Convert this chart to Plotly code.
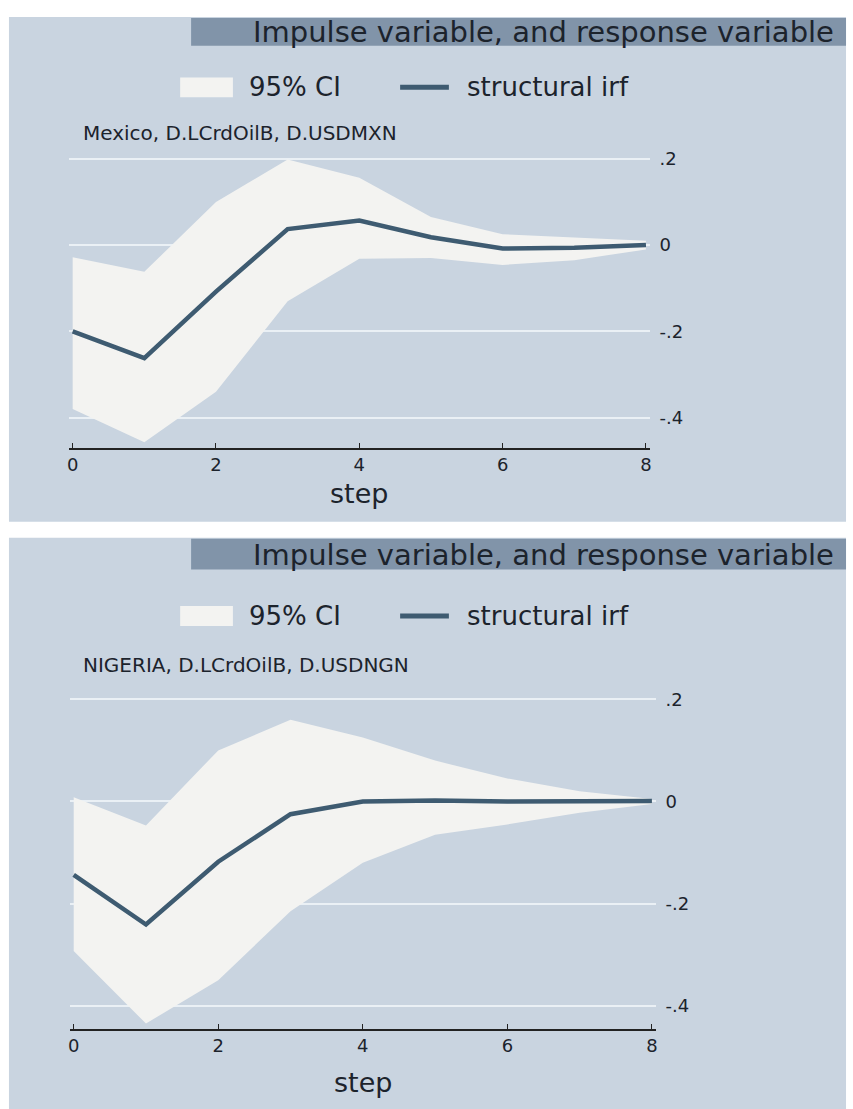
import plotly.graph_objects as go

W, H = 853, 1109

steps = [0, 1, 2, 3, 4, 5, 6, 7, 8]

# Mexico panel
mex_irf = [-0.200, -0.262, -0.108, 0.037, 0.057, 0.018, -0.008, -0.006, 0.000]
mex_lo = [-0.380, -0.457, -0.340, -0.130, -0.032, -0.030, -0.046, -0.035, -0.010]
mex_hi = [-0.028, -0.062, 0.100, 0.198, 0.156, 0.065, 0.025, 0.018, 0.010]

# Nigeria panel
ng_irf = [-0.144, -0.241, -0.118, -0.025, 0.000, 0.002, 0.000, 0.000, 0.001]
ng_lo = [-0.293, -0.435, -0.350, -0.215, -0.120, -0.065, -0.045, -0.022, -0.005]
ng_hi = [0.008, -0.047, 0.100, 0.160, 0.125, 0.080, 0.045, 0.020, 0.005]

ytick_vals = [0.2, 0.0, -0.2, -0.4]
ytick_text = [".2", "0", "-.2", "-.4"]
xtick_vals = [0, 2, 4, 6, 8]

main_title = "Impulse variable, and response variable"
subtitles = ["Mexico, D.LCrdOilB, D.USDMXN", "NIGERIA, D.LCrdOilB, D.USDNGN"]
legend_ci = "95% CI"
legend_irf = "structural irf"
xlabel = "step"

PANEL_BG = "#c9d4e0"
BAR_BG = "#8194a9"
CI_FILL = "#f3f3f1"
IRF_COL = "#3e5b71"
GRID_COL = "#eaf0f5"
TXT = "#1c232c"
FONT = "DejaVu Sans"


def px_x(x):
    return x / W


def px_y(y):
    return 1 - y / H


fig = go.Figure()

# panel geometry in pixels
panels = [
    dict(top=8, bottom=517, bar_bottom=37, plot_l=67.4, plot_r=650.6, plot_t=148.8, plot_b=442.5,
         yr=[-0.47, 0.205], legend_y=79, sub_y=125, step_y=488,
         irf=mex_irf, lo=mex_lo, hi=mex_hi, sub=subtitles[0]),
    dict(top=533, bottom=1109, bar_bottom=565, plot_l=68.4, plot_r=656.6, plot_t=693.4, plot_b=1028,
         yr=[-0.445, 0.205], legend_y=612, sub_y=661, step_y=1082,
         irf=ng_irf, lo=ng_lo, hi=ng_hi, sub=subtitles[1]),
]

shapes = []
annotations = []

for i, p in enumerate(panels):
    sfx = "" if i == 0 else "2"
    xa, ya = "x" + sfx, "y" + sfx
    # CI band
    fig.add_trace(go.Scatter(
        x=steps + steps[::-1], y=p["hi"] + p["lo"][::-1],
        fill="toself", fillcolor=CI_FILL, mode="lines", line=dict(width=0),
        xaxis=xa, yaxis=ya, showlegend=False, hoverinfo="skip"))
    # IRF line
    fig.add_trace(go.Scatter(
        x=steps, y=p["irf"], mode="lines", line=dict(color=IRF_COL, width=4.5),
        xaxis=xa, yaxis=ya, showlegend=False))

    fig.update_layout(**{
        "xaxis" + sfx: dict(
            domain=[px_x(p["plot_l"]), px_x(p["plot_r"])], range=[-0.05, 8.05],
            anchor=ya, tickvals=xtick_vals, ticks="inside", ticklen=5, tickwidth=1.2,
            tickcolor="#222", showline=True, linecolor="#222", linewidth=1.5,
            showgrid=False, zeroline=False, tickfont=dict(family=FONT, size=18, color=TXT),
            fixedrange=True),
        "yaxis" + sfx: dict(
            domain=[px_y(p["plot_b"]), px_y(p["plot_t"])], range=p["yr"],
            anchor=xa, side="right", tickvals=ytick_vals, ticktext=ytick_text,
            ticks="", showline=False, showgrid=True, gridcolor=GRID_COL, gridwidth=1.6,
            zeroline=False, ticklabelstandoff=9,
            tickfont=dict(family=FONT, size=18, color=TXT), fixedrange=True),
    })

    # panel background
    shapes.append(dict(type="rect", xref="paper", yref="paper", layer="below",
                       x0=px_x(7), x1=px_x(848), y0=px_y(p["bottom"]), y1=px_y(p["top"]),
                       fillcolor=PANEL_BG, line=dict(width=0)))
    # title bar
    shapes.append(dict(type="rect", xref="paper", yref="paper", layer="below",
                       x0=px_x(190), x1=px_x(848), y0=px_y(p["bar_bottom"]), y1=px_y(p["top"] + 1),
                       fillcolor=BAR_BG, line=dict(width=0)))
    annotations.append(dict(text=main_title, xref="paper", yref="paper",
                            x=px_x(838), y=px_y((p["top"] + p["bar_bottom"]) / 2 + 1),
                            xanchor="right", yanchor="middle", showarrow=False,
                            font=dict(family=FONT, size=29, color=TXT)))
    # legend
    ly = p["legend_y"]
    shapes.append(dict(type="rect", xref="paper", yref="paper",
                       x0=px_x(179), x1=px_x(232), y0=px_y(ly + 10), y1=px_y(ly - 10),
                       fillcolor=CI_FILL, line=dict(width=0)))
    annotations.append(dict(text=legend_ci, xref="paper", yref="paper", x=px_x(246), y=px_y(ly),
                            xanchor="left", yanchor="middle", showarrow=False,
                            font=dict(family=FONT, size=26, color=TXT)))
    shapes.append(dict(type="line", xref="paper", yref="paper",
                       x0=px_x(400), x1=px_x(449), y0=px_y(ly), y1=px_y(ly),
                       line=dict(color=IRF_COL, width=5)))
    annotations.append(dict(text=legend_irf, xref="paper", yref="paper", x=px_x(465), y=px_y(ly),
                            xanchor="left", yanchor="middle", showarrow=False,
                            font=dict(family=FONT, size=26, color=TXT)))
    # subtitle
    annotations.append(dict(text=p["sub"], xref="paper", yref="paper", x=px_x(79), y=px_y(p["sub_y"]),
                            xanchor="left", yanchor="middle", showarrow=False,
                            font=dict(family=FONT, size=20, color=TXT)))
    # x label
    annotations.append(dict(text=xlabel, xref="paper", yref="paper",
                            x=px_x((p["plot_l"] + p["plot_r"]) / 2), y=px_y(p["step_y"]),
                            xanchor="center", yanchor="middle", showarrow=False,
                            font=dict(family=FONT, size=27, color=TXT)))

fig.update_layout(
    width=W, height=H, margin=dict(l=0, r=0, t=0, b=0),
    paper_bgcolor="white", plot_bgcolor="rgba(0,0,0,0)",
    shapes=shapes, annotations=annotations, showlegend=False,
)

fig.write_html("out.html")
